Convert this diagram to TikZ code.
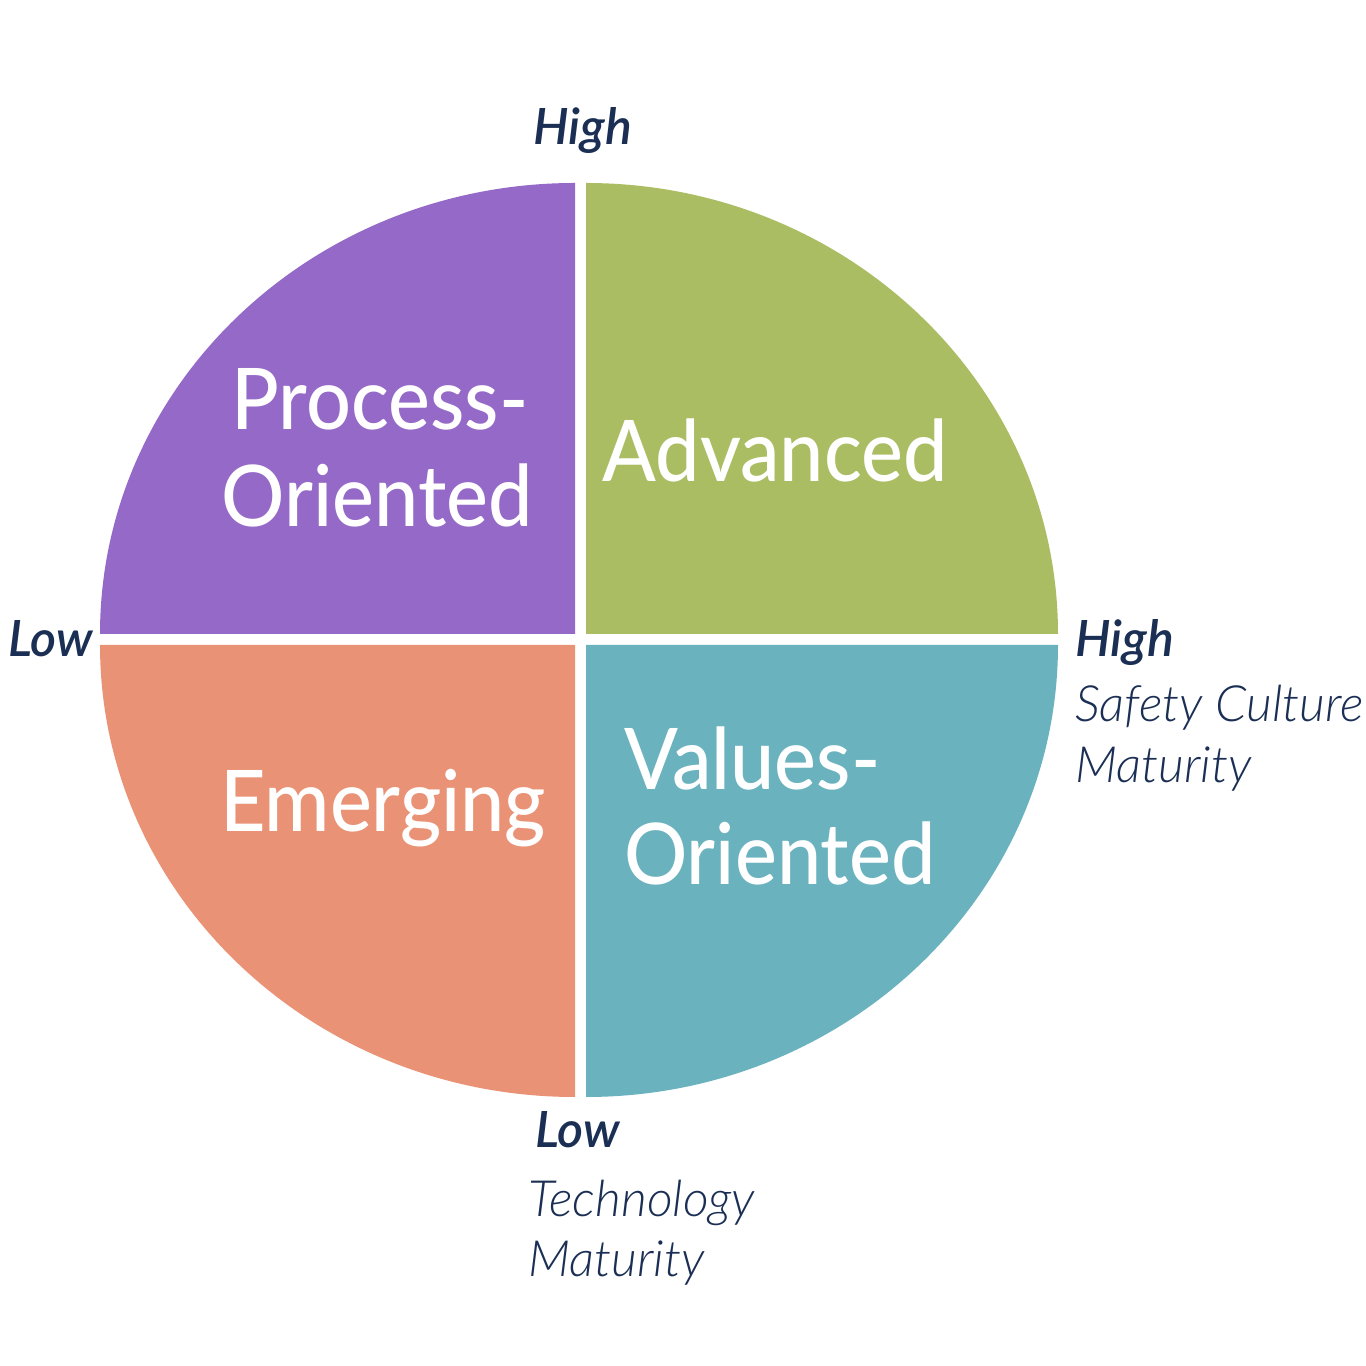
\documentclass[tikz,border=0pt]{standalone}
\usepackage{fontspec}
\setmainfont{Lato}
\IfFontExistsTF{Lato Light Italic}
  {\newfontfamily\lightit{Lato Light Italic}}
  {\newfontfamily\lightitbase{Lato}\newcommand\lightit{\lightitbase\itshape}}
\IfFontExistsTF{Lato Semibold Italic}
  {\newfontfamily\semiit{Lato Semibold Italic}}
  {\newfontfamily\semiitbase{Lato}\newcommand\semiit{\semiitbase\bfseries\itshape}}
\IfFontExistsTF{Lato Medium}
  {\newfontfamily\quadfont[FakeStretch=0.93]{Lato Medium}}
  {\newfontfamily\quadfont[FakeStretch=0.93]{Lato}}
\definecolor{qpurple}{HTML}{9569C7}
\definecolor{qgreen}{HTML}{AABD62}
\definecolor{qorange}{HTML}{EA9275}
\definecolor{qteal}{HTML}{6BB2BF}
\definecolor{navy}{HTML}{1B2F55}
\tikzset{
  quadtext/.style={inner sep=0pt, text=white, font=\quadfont\fontsize{85}{97}\selectfont},
  axislabel/.style={inner sep=0pt, text=navy, anchor=base west, font=\semiit\fontsize{50}{56}\selectfont},
  axisname/.style={inner sep=0pt, text=navy, anchor=base west, font=\lightit\fontsize{50}{56}\selectfont}
}
\begin{document}
\begin{tikzpicture}[x=1pt,y=1pt]
\path[use as bounding box, fill=white] (0,0) rectangle (1366,1366);
% quadrants
\fill[qpurple] (575,732) -- (100,732) arc[start angle=180, end angle=90, x radius=475, y radius=451] -- cycle;
\fill[qgreen] (586,732) -- (1058,732) arc[start angle=0, end angle=90, x radius=472, y radius=451] -- cycle;
\fill[qorange] (575,721) -- (100,721) arc[start angle=180, end angle=270, x radius=475, y radius=452] -- cycle;
\fill[qteal] (586,721) -- (1058,721) arc[start angle=0, end angle=-90, x radius=472, y radius=452] -- cycle;
% quadrant texts
\node[quadtext, anchor=base] (proc1) at (380,936) {Process-};
\node[quadtext, anchor=base] (proc2) at (377,839) {Oriented};
\node[quadtext, anchor=base] (adv) at (775,884) {Advanced};
\node[quadtext, anchor=base] (emg) at (383,534) {Emerging};
\node[quadtext, anchor=base west] (val1) at (624,576) {Values-};
\node[quadtext, anchor=base west] (val2) at (624,481) {Oriented};
% axis labels
\node[axislabel] (hightop) at (533,1221) {High};
\node[axislabel] (lowleft) at (8,709) {Low};
\node[axislabel] (highright) at (1075,709) {High};
\node[axisname] (scm1) at (1075,644) {Safety Culture};
\node[axisname] (scm2) at (1075,583) {Maturity};
\node[axislabel] (lowbot) at (535,218) {Low};
\node[axisname] (tm1) at (528,149) {Technology};
\node[axisname] (tm2) at (528,89) {Maturity};
\end{tikzpicture}
\end{document}
